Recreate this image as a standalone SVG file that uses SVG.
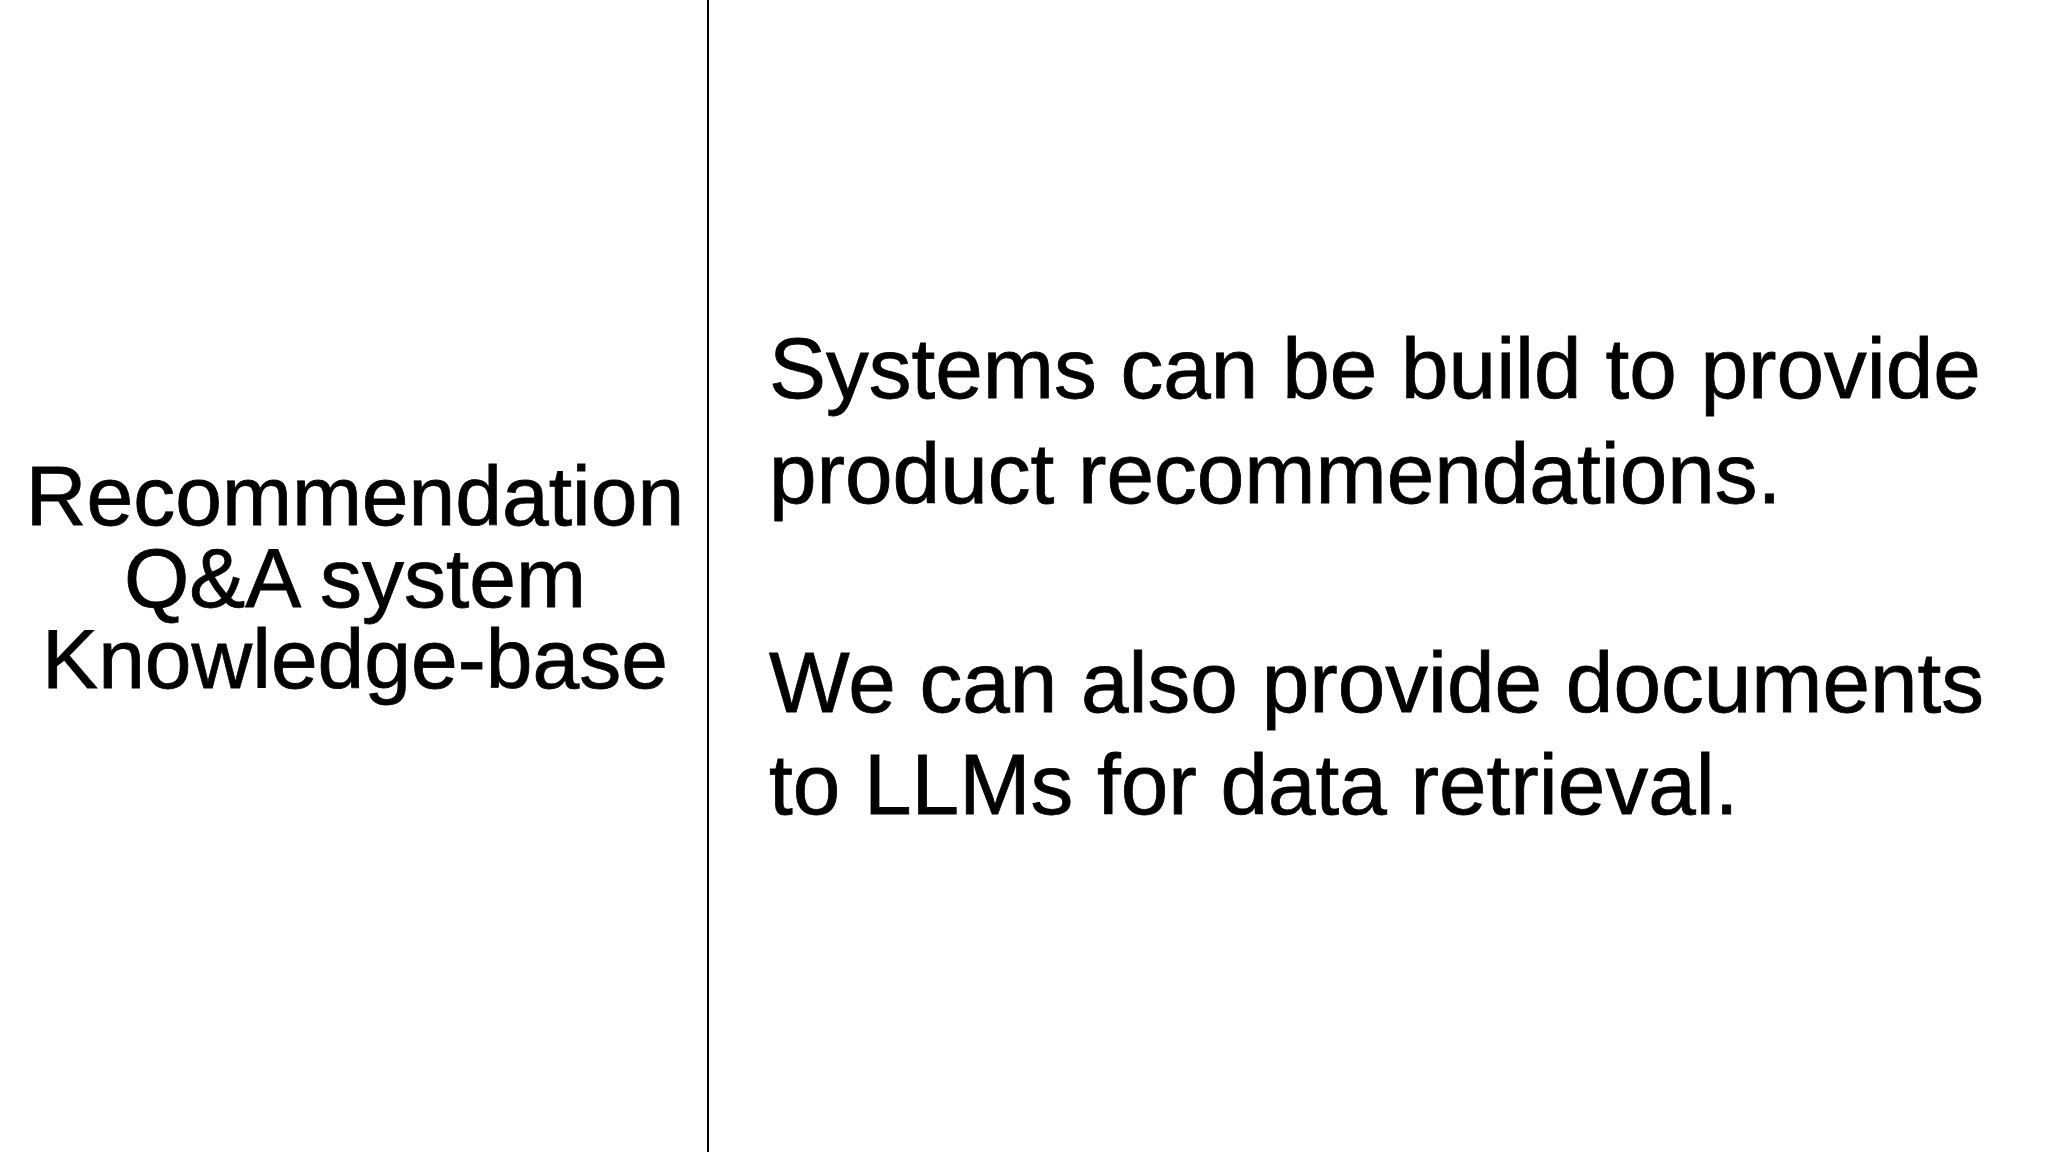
<svg xmlns="http://www.w3.org/2000/svg" width="2048" height="1152" viewBox="0 0 2048 1152">
<style>
text{font-family:"Liberation Sans",Arial,sans-serif;fill:#000;font-size:84px;stroke:#000;stroke-width:0.8px}
.l{text-anchor:middle}
.r{font-size:85.5px}
</style>
<rect width="2048" height="1152" fill="#fff"/>
<g id="divider"><line x1="708" y1="0" x2="708" y2="1152" stroke="#000" stroke-width="2"/></g>
<g id="left">
<text class="l" x="355" y="525">Recommendation</text>
<text class="l" x="355" y="607">Q&amp;A system</text>
<text class="l" x="355" y="688">Knowledge-base</text>
</g>
<g id="right">
<text class="r" x="769" y="398">Systems can be build to provide</text>
<text class="r" x="769" y="503">product recommendations.</text>
<text class="r" x="769" y="712">We can also provide documents</text>
<text class="r" x="769" y="814">to LLMs for data retrieval.</text>
</g>
</svg>
